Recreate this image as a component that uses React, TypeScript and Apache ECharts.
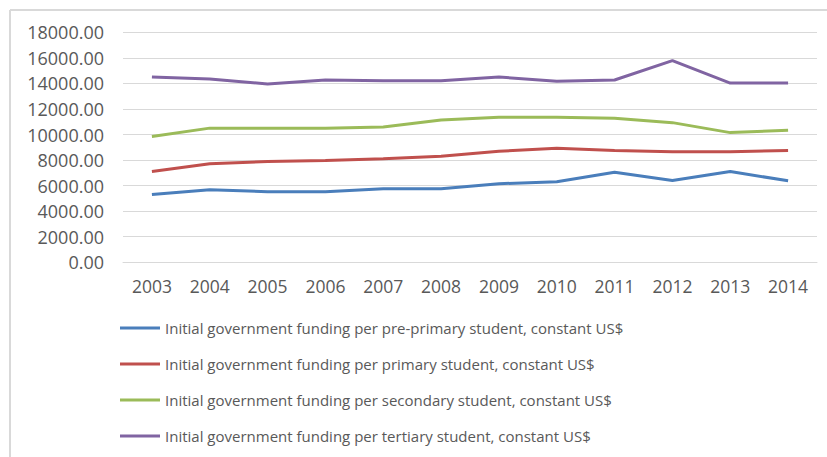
import React, { useEffect, useRef } from "react";
import * as echarts from "echarts";

const years = ["2003", "2004", "2005", "2006", "2007", "2008", "2009", "2010", "2011", "2012", "2013", "2014"];
const prePrimary = [5300, 5680, 5530, 5530, 5760, 5760, 6150, 6300, 7040, 6400, 7100, 6380];
const primary = [7100, 7720, 7880, 7960, 8100, 8300, 8690, 8920, 8740, 8660, 8660, 8740];
const secondary = [9850, 10500, 10500, 10500, 10580, 11130, 11350, 11350, 11270, 10930, 10150, 10330];
const tertiary = [14500, 14350, 13950, 14270, 14200, 14200, 14500, 14170, 14270, 15780, 14030, 14030];
const seriesNames = [
  "Initial government funding per pre-primary student, constant US$",
  "Initial government funding per primary student, constant US$",
  "Initial government funding per secondary student, constant US$",
  "Initial government funding per tertiary student, constant US$",
];
const colors = ["#4a7ebb", "#c0504d", "#9bbb59", "#8064a2"];

export default function App() {
  const ref = useRef<HTMLDivElement>(null);
  useEffect(() => {
    if (!ref.current) return;
    const chart = echarts.init(ref.current, null, { renderer: "svg" });
    const data = [prePrimary, primary, secondary, tertiary];
    chart.setOption({
      animation: false,
      backgroundColor: "#ffffff",
      textStyle: { fontFamily: "Open Sans" },
      grid: { left: 123, right: 10, top: 32.3, bottom: 194.7, containLabel: false },
      xAxis: {
        type: "category",
        data: years,
        boundaryGap: true,
        axisLine: { show: true, lineStyle: { color: "#d9d9d9", width: 1 } },
        axisTick: { show: false },
        axisLabel: { color: "#595959", fontSize: 17.5, fontFamily: "Open Sans", margin: 15 },
      },
      yAxis: {
        type: "value",
        min: 0,
        max: 18000,
        interval: 2000,
        axisLine: { show: false },
        axisTick: { show: false },
        splitLine: { lineStyle: { color: "#d9d9d9", width: 1 } },
        axisLabel: {
          color: "#595959",
          fontSize: 18,
          fontFamily: "Open Sans",
          margin: 19,
          formatter: (v: number) => v.toFixed(2),
        },
      },
      legend: {
        orient: "vertical",
        left: 120,
        top: 319,
        padding: 0,
        icon: "rect",
        itemWidth: 40,
        itemHeight: 3,
        itemGap: 18,
        textStyle: { color: "#595959", fontSize: 15, fontFamily: "Open Sans", lineHeight: 18 },
        data: seriesNames,
      },
      graphic: [
        { type: "line", shape: { x1: 10, y1: 10, x2: 827, y2: 10 }, style: { stroke: "#d9d9d9", lineWidth: 2 } },
        { type: "line", shape: { x1: 10, y1: 10, x2: 10, y2: 457 }, style: { stroke: "#d9d9d9", lineWidth: 2 } },
      ],
      series: seriesNames.map((name, i) => ({
        name,
        type: "line",
        data: data[i],
        symbol: "none",
        showSymbol: false,
        color: colors[i],
        lineStyle: { color: colors[i], width: 3 },
      })),
    });
    return () => chart.dispose();
  }, []);
  return <div ref={ref} style={{ position: "fixed", left: 0, top: 0, width: 827, height: 457 }} />;
}
